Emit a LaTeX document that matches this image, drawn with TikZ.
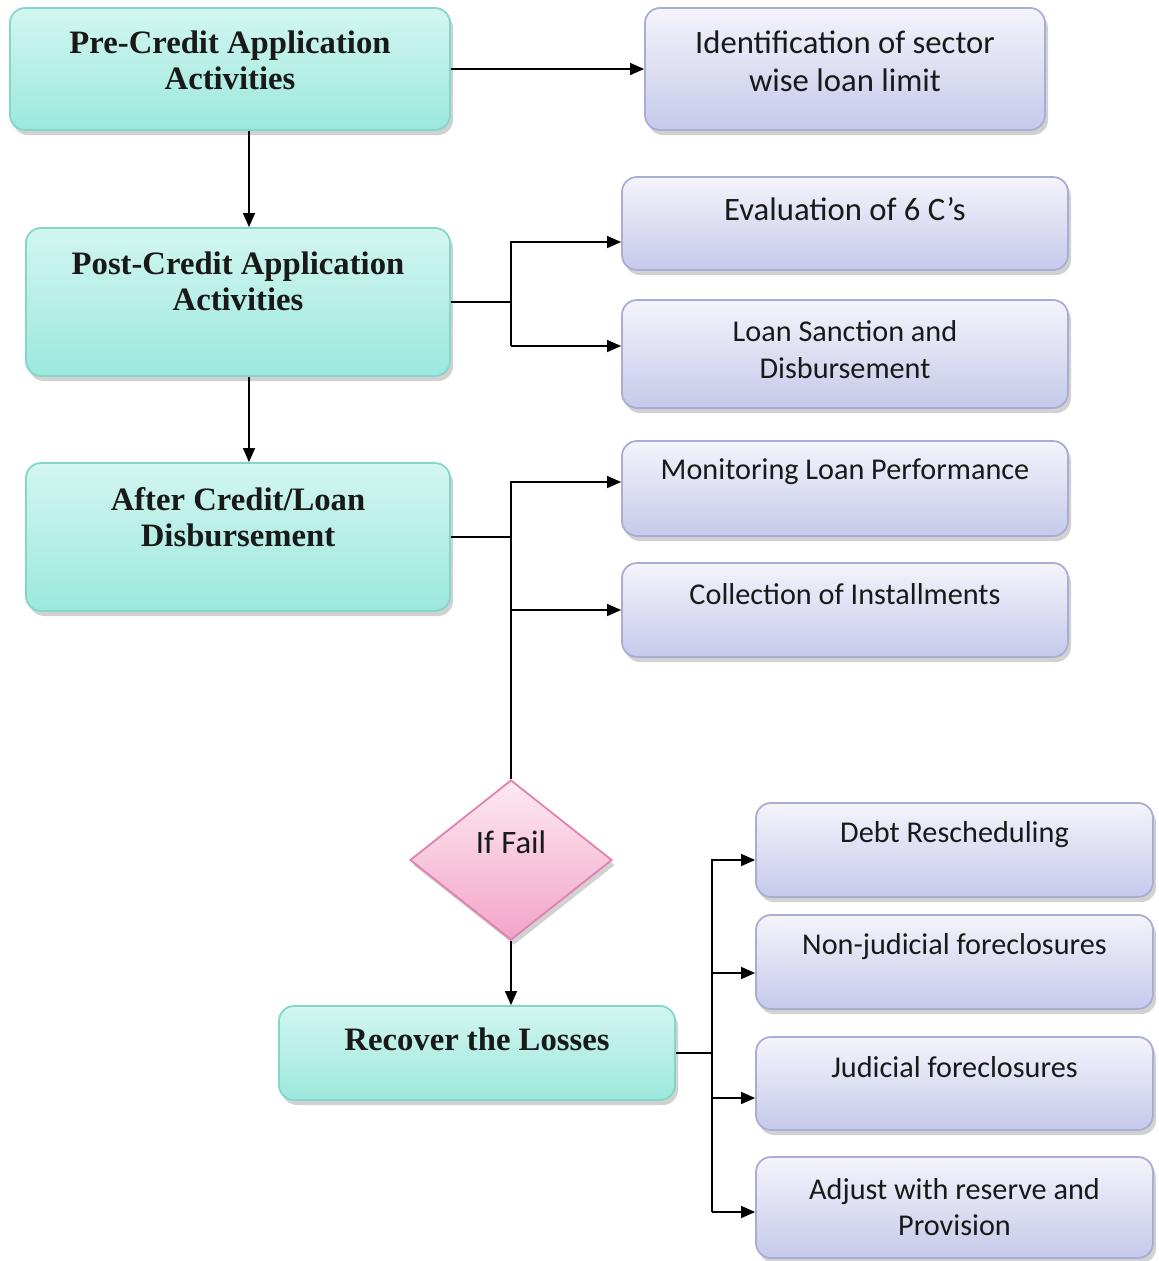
\documentclass[tikz,border=0pt]{standalone}
\usepackage{fontspec}
\setmainfont{Liberation Serif}
\newfontfamily\calfont{Carlito}
\usetikzlibrary{arrows.meta}
\usetikzlibrary{shapes.geometric}
\usetikzlibrary{shadows}
\usepackage{xcolor}

\definecolor{tealtop}{HTML}{D2F6F0}
\definecolor{tealbot}{HTML}{9CE8DC}
\definecolor{tealedge}{HTML}{84D6CA}
\definecolor{lavtop}{HTML}{F4F4FB}
\definecolor{lavbot}{HTML}{C6C9EA}
\definecolor{lavedge}{HTML}{A8ADD7}
\definecolor{pinktop}{HTML}{FDEAF2}
\definecolor{pinkbot}{HTML}{F2A4C7}
\definecolor{pinkedge}{HTML}{E07FB0}

\tikzset{
    boxshadow/.style={drop shadow={shadow xshift=0.6mm, shadow yshift=-1mm, opacity=0.3, fill=black!60}},
    stepbox/.style={rounded corners=3mm, draw=tealedge, line width=1pt, top color=tealtop, bottom color=tealbot, boxshadow},
    subbox/.style={rounded corners=3mm, draw=lavedge, line width=1pt, top color=lavtop, bottom color=lavbot, boxshadow},
    failbox/.style={diamond, draw=pinkedge, line width=1pt, top color=pinktop, bottom color=pinkbot, boxshadow},
    headtext/.style={align=center, anchor=center, text=black!90, font=\bfseries\fontsize{18.6}{20.5}\selectfont},
    subtext/.style={align=center, anchor=center, text=black!90, font=\calfont\fontsize{17.2}{21}\selectfont},
    bigtext/.style={subtext, font=\calfont\fontsize{18.6}{22}\selectfont},
    conn/.style={line width=0.8pt, black},
    arr/.style={conn, -{Triangle[length=2.8mm, width=2.4mm]}}
}

\begin{document}
\begin{tikzpicture}
        \useasboundingbox (0,0) rectangle (23.18,-25.22);

        % left column
        \node[stepbox, minimum width=8.8cm, minimum height=2.44cm] (pre) at (4.6,-1.38) {};
        \node[stepbox, minimum width=8.48cm, minimum height=2.96cm] (post) at (4.76,-6.04) {};
        \node[stepbox, minimum width=8.48cm, minimum height=2.96cm] (after) at (4.76,-10.74) {};
        \node[failbox, minimum width=4.04cm, minimum height=3.2cm] (fail) at (10.22,-17.2) {};
        \node[stepbox, minimum width=7.92cm, minimum height=1.88cm] (recover) at (9.54,-21.06) {};

        % right column
        \node[subbox, minimum width=8.0cm, minimum height=2.44cm] (ident) at (16.9,-1.38) {};
        \node[subbox, minimum width=8.92cm, minimum height=1.86cm] (eval) at (16.9,-4.47) {};
        \node[subbox, minimum width=8.92cm, minimum height=2.16cm] (loan) at (16.9,-7.08) {};
        \node[subbox, minimum width=8.92cm, minimum height=1.9cm] (monitor) at (16.9,-9.77) {};
        \node[subbox, minimum width=8.92cm, minimum height=1.88cm] (collect) at (16.9,-12.2) {};
        \node[subbox, minimum width=7.94cm, minimum height=1.88cm] (debt) at (19.09,-17.0) {};
        \node[subbox, minimum width=7.94cm, minimum height=1.88cm] (nonjud) at (19.09,-19.24) {};
        \node[subbox, minimum width=7.94cm, minimum height=1.86cm] (jud) at (19.09,-21.67) {};
        \node[subbox, minimum width=7.94cm, minimum height=2.02cm] (adjust) at (19.09,-24.15) {};

        % texts
        \node[headtext] (pretxt) at ([yshift=-1.06cm]pre.north) {Pre-Credit Application\\Activities};
        \node[headtext] (posttxt) at ([yshift=-1.08cm]post.north) {Post-Credit Application\\Activities};
        \node[headtext] (aftertxt) at ([yshift=-1.1cm]after.north) {After Credit/Loan\\Disbursement};
        \node[headtext] (recovertxt) at ([yshift=-0.68cm]recover.north) {Recover the Losses};
        \node[bigtext] (failtxt) at ([yshift=-1.26cm]fail.north) {If Fail};
        \node[bigtext] (identtxt) at ([yshift=-1.08cm]ident.north) {Identification of sector\\wise loan limit};
        \node[bigtext] (evaltxt) at ([yshift=-0.66cm]eval.north) {Evaluation of 6 C’s};
        \node[subtext] (loantxt) at ([yshift=-1.01cm]loan.north) {Loan Sanction and\\Disbursement};
        \node[subtext] (monitortxt) at ([yshift=-0.64cm]monitor.north) {Monitoring Loan Performance};
        \node[subtext] (collecttxt) at ([yshift=-0.64cm]collect.north) {Collection of Installments};
        \node[subtext] (debttxt) at ([yshift=-0.64cm]debt.north) {Debt Rescheduling};
        \node[subtext] (nonjudtxt) at ([yshift=-0.64cm]nonjud.north) {Non-judicial foreclosures};
        \node[subtext] (judtxt) at ([yshift=-0.62cm]jud.north) {Judicial foreclosures};
        \node[subtext] (adjusttxt) at ([yshift=-1.02cm]adjust.north) {Adjust with reserve and\\Provision};

        % arrow ends
        \coordinate (spine) at (4.98,0);
        \coordinate (col) at (14.24,0);
        \coordinate (evalin) at ([yshift=-3.7mm]eval.west);
        \coordinate (loanin) at ([yshift=1.6mm]loan.west);
        \coordinate (monitorin) at ([yshift=1.3mm]monitor.west);
        \coordinate (debtin) at ([yshift=-2mm]debt.west);
        \coordinate (nonjudin) at ([yshift=-2.2mm]nonjud.west);
        \coordinate (judin) at ([yshift=-2.9mm]jud.west);
        \coordinate (adjustin) at ([yshift=-0.9mm]adjust.west);

        \draw[arr] (pre.east) -- (ident.west);
        \draw[arr] (pre.south -| spine) -- (post.north -| spine);
        \draw[arr] (post.south -| spine) -- (after.north -| spine);

        \draw[conn] (post.east) -- (post.east -| fail.north);
        \draw[arr] (loanin -| fail.north) |- (evalin);
        \draw[arr] (loanin -| fail.north) -- (loanin);

        \draw[conn] (after.east) -- (after.east -| fail.north);
        \draw[arr] (fail.north) |- (monitorin);
        \draw[arr] (collect.west -| fail.north) -- (collect.west);

        \draw[arr] (fail.south) -- (fail.south |- recover.north);

        \draw[conn] (recover.east) -- (recover.east -| col);
        \draw[arr] (adjustin -| col) |- (debtin);
        \draw[arr] (nonjudin -| col) -- (nonjudin);
        \draw[arr] (judin -| col) -- (judin);
        \draw[arr] (adjustin -| col) -- (adjustin);
\end{tikzpicture}
\end{document}
